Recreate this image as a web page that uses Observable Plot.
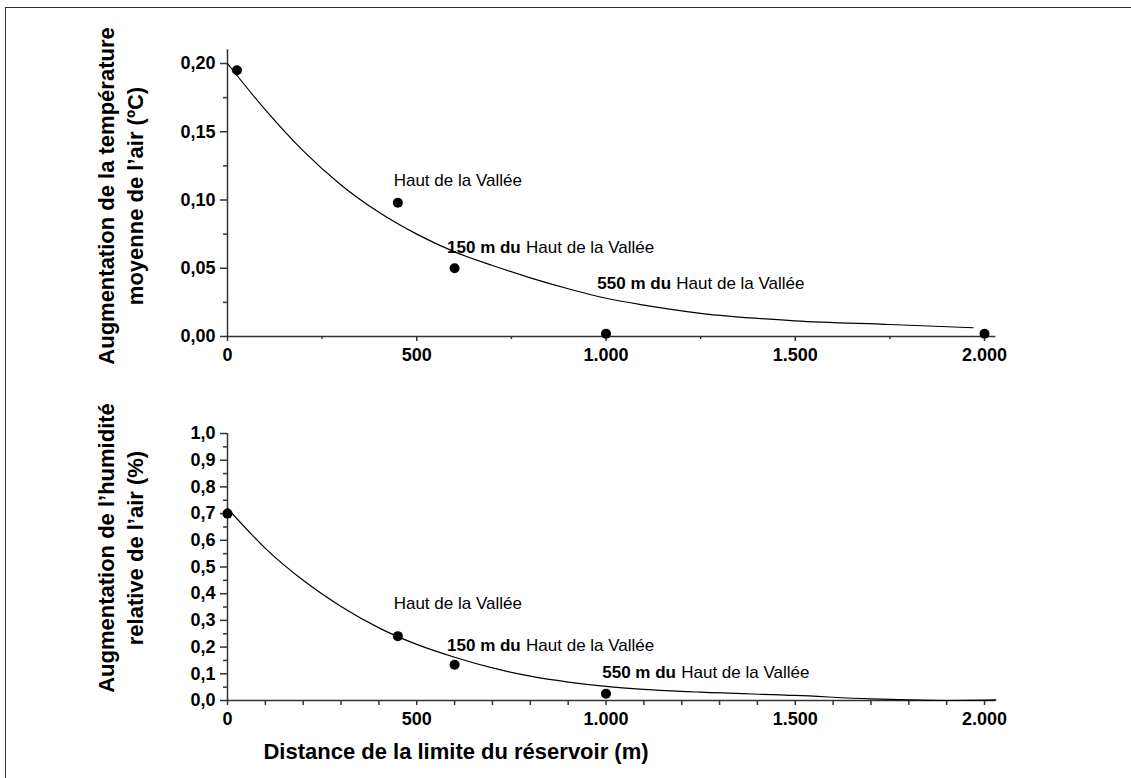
<!DOCTYPE html>
<html><head><meta charset="utf-8">
<script src="https://cdn.jsdelivr.net/npm/d3@7"></script>
<script src="https://cdn.jsdelivr.net/npm/@observablehq/plot@0.6"></script>
<style>
body{margin:0;background:#fff;font-family:"Liberation Sans",Arial,sans-serif;}
#wrap{position:relative;width:1131px;height:778px;overflow:hidden;background:#fff;}
#frame{position:absolute;left:5px;top:7px;right:-10px;bottom:-10px;border-left:1.5px solid #333;border-top:1.5px solid #333;}
.ytitle{position:absolute;transform:translate(-50%,-50%) rotate(-90deg);font-weight:bold;font-size:22px;line-height:29px;text-align:center;white-space:nowrap;color:#000;}
#xtitle{position:absolute;left:456px;top:752px;transform:translate(-50%,-50%);font-weight:bold;font-size:22px;white-space:nowrap;color:#000;}
.plot{position:absolute;left:0;}
</style></head>
<body>
<div id="wrap">
  <div id="frame"></div>
  <div id="top" class="plot" style="top:0px"></div>
  <div id="bot" class="plot" style="top:380px"></div>
  <div class="ytitle" style="left:121px;top:196px">Augmentation de la température<br>moyenne de l’air (ºC)</div>
  <div class="ytitle" style="left:121px;top:548px">Augmentation de l’humidité<br>relative de l’air (%)</div>
  <div id="xtitle">Distance de la limite du réservoir (m)</div>
</div>
<script>
// ---- data ----
const tempDist = [25, 450, 600, 1000, 2000];
const tempRise = [0.195, 0.098, 0.050, 0.002, 0.002];
const tempCurveX = [0, 100, 200, 300, 400, 500, 600, 700, 800, 900, 1000, 1100, 1250, 1500, 1750, 1970];
const tempCurveY = [0.200, 0.166, 0.136, 0.111, 0.091, 0.075, 0.062, 0.052, 0.043, 0.035, 0.028, 0.023, 0.017, 0.0115, 0.0088, 0.0064];

const humDist = [0, 450, 600, 1000];
const humRise = [0.70, 0.241, 0.134, 0.025];
const humCurveX = [0, 100, 200, 300, 400, 500, 600, 700, 800, 900, 1000, 1100, 1250, 1500, 1700, 1800, 1900, 2030];
const humCurveY = [0.72, 0.57, 0.45, 0.352, 0.272, 0.21, 0.162, 0.122, 0.091, 0.069, 0.053, 0.042, 0.031, 0.019, 0.006, 0.002, 0.000, 0.002];

const labelBold = ["", "150 m du", "550 m du"];
const labelPlain = ["Haut de la Vallée", "Haut de la Vallée", "Haut de la Vallée"];
const tempLabelX = [439, 580, 977];
const tempLabelY = [0.114, 0.065, 0.039];
const humLabelX = [439, 580, 990];
const humLabelY = [0.362, 0.206, 0.106];

const distTicks = [0, 500, 1000, 1500, 2000];
const distMinorTop = [250, 750, 1250, 1750];
const distMinorBot = [100, 200, 300, 400, 600, 700, 800, 900, 1100, 1200, 1300, 1400, 1600, 1700, 1800, 1900];
const tempTicks = [0, 0.05, 0.10, 0.15, 0.20];
const tempMinor = [0.025, 0.075, 0.125, 0.175];
const humTicks = [0, 0.1, 0.2, 0.3, 0.4, 0.5, 0.6, 0.7, 0.8, 0.9, 1.0];
const humMinor = [0.05, 0.15, 0.25, 0.35, 0.45, 0.55, 0.65, 0.75, 0.85, 0.95];

// ---- helpers ----
const loc = d3.formatLocale({decimal: ",", thousands: ".", grouping: [3], currency: ["", "€"]});
const fDist = loc.format(",.0f");
const fTemp = loc.format(".2f");
const fHum = loc.format(".1f");
const FONT = '"Liberation Sans", Arial, sans-serif';
const AX = "#333";

function pts(xs, ys) { return xs.map((x, i) => ({x, y: ys[i]})); }
function labels(xs, ys) { return xs.map((x, i) => ({x, y: ys[i], bold: labelBold[i], plain: labelPlain[i]})); }

function chart(o) {
  const pdata = pts(o.px, o.py);
  const cdata = pts(o.cx, o.cy);
  const ldata = labels(o.lx, o.ly);
  const withBold = ldata.filter(d => d.bold);
  const noBold = ldata.filter(d => !d.bold);
  return Plot.plot({
    width: 1131, height: o.height,
    marginLeft: 227, marginRight: 135.6, marginTop: o.mt, marginBottom: o.mb,
    x: {domain: [0, 2030], label: null},
    y: {domain: o.ydomain, label: null},
    style: {fontFamily: FONT, background: "transparent", overflow: "visible", color: "#000"},
    marks: [
      Plot.axisY({ticks: o.yminor, tickSize: 4, tickFormat: () => "", stroke: AX, strokeWidth: 1.5, label: null}),
      Plot.axisY({ticks: o.yticks, tickSize: 7, tickPadding: 5, tickFormat: o.yfmt, fontSize: 18, fontWeight: "bold", stroke: AX, strokeWidth: 1.5, label: null}),
      Plot.axisX({ticks: o.xminor, tickSize: o.xminorSize, tickFormat: () => "", stroke: AX, strokeWidth: 1.5, label: null}),
      Plot.axisX({ticks: distTicks, tickSize: 5, tickPadding: 7, tickFormat: fDist, fontSize: 18, fontWeight: "bold", stroke: AX, strokeWidth: 1.5, label: null}),
      Plot.ruleX([0], {y1: o.ydomain[0], y2: o.ydomain[1], stroke: AX, strokeWidth: 1.5}),
      Plot.ruleY([0], {x1: 0, x2: 2030, stroke: AX, strokeWidth: 1.5}),
      Plot.line(cdata, {x: "x", y: "y", curve: "monotone-x", stroke: "#000", strokeWidth: 1.2}),
      Plot.dot(pdata, {x: "x", y: "y", r: 5, fill: "#000", stroke: "none"}),
      Plot.text(noBold, {x: "x", y: "y", text: "plain", textAnchor: "start", fontSize: 17, fill: "#000"}),
      Plot.text(withBold, {x: "x", y: "y", text: "bold", textAnchor: "start", fontSize: 17, fontWeight: "bold", fill: "#000"}),
      Plot.text(withBold, {x: "x", y: "y", text: "plain", textAnchor: "start", dx: 79, fontSize: 17, fill: "#000"})
    ]
  });
}

document.getElementById("top").append(chart({
  height: 380, mt: 49.35, mb: 44, ydomain: [0, 0.21],
  px: tempDist, py: tempRise, cx: tempCurveX, cy: tempCurveY,
  lx: tempLabelX, ly: tempLabelY,
  yticks: tempTicks, yminor: tempMinor, yfmt: fTemp,
  xminor: distMinorTop, xminorSize: 3
}));

document.getElementById("bot").append(chart({
  height: 398, mt: 53, mb: 78, ydomain: [0, 1.0],
  px: humDist, py: humRise, cx: humCurveX, cy: humCurveY,
  lx: humLabelX, ly: humLabelY,
  yticks: humTicks, yminor: humMinor, yfmt: fHum,
  xminor: distMinorBot, xminorSize: 5
}));
</script>
</body></html>
